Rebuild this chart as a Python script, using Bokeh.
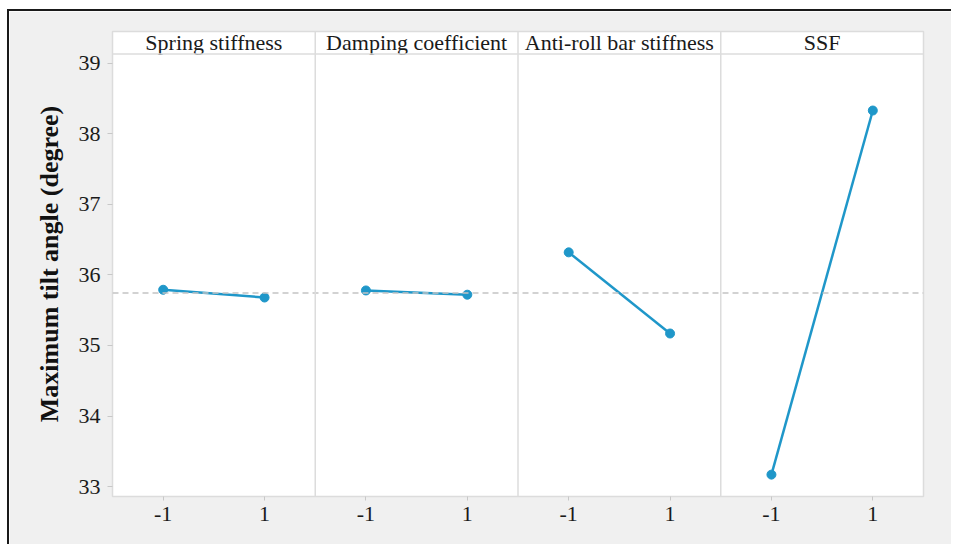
from bokeh.plotting import figure
from bokeh.models import FixedTicker, Span, ColumnDataSource, Range1d
from bokeh.core.properties import value
from bokeh.embed import file_html
from bokeh.resources import INLINE

# ---- data ----
factors = ["Spring stiffness", "Damping coefficient", "Anti-roll bar stiffness", "SSF"]
levels = [-1, 1]
level_labels = ["-1", "1"]
mean_low = [35.79, 35.78, 36.32, 33.17]
mean_high = [35.68, 35.72, 35.17, 38.33]
grand_mean = 35.745
y_ticks = [33, 34, 35, 36, 37, 38, 39]
y_label = "Maximum tilt angle (degree)"

# ---- layout of the panels ----
panel_w = 4.0           # each panel spans -2 .. 2 on the level scale
n = len(factors)
y_bottom, y_plot_top, y_strip_top = 32.86, 39.13, 39.45

BLUE = "#1f97c9"
GRID = "#dcdcdc"
FONT = "Liberation Serif"

p = figure(width=944, height=535, output_backend="svg", toolbar_location=None,
           x_range=Range1d(0, panel_w * n), y_range=Range1d(y_bottom, y_strip_top),
           min_border_left=103, min_border_right=30, min_border_top=20, min_border_bottom=50,
           styles={"border-top": "2px solid #1a1a1a", "border-left": "2px solid #1a1a1a",
                   "margin-top": "9px", "margin-left": "7px"})
p.background_fill_color = "white"
p.border_fill_color = "#f0f0f0"
p.outline_line_color = GRID
p.outline_line_width = 1.5
p.xgrid.visible = False
p.ygrid.visible = False

# grand-mean reference line
p.add_layout(Span(location=grand_mean, dimension="width", line_color="#c4c4c4",
                  line_dash="6 4", line_width=1.5))
# header strip separator
p.add_layout(Span(location=y_plot_top, dimension="width", line_color=GRID, line_width=1.5))
# panel separators
for i in range(1, n):
    p.add_layout(Span(location=i * panel_w, dimension="height", line_color=GRID, line_width=1.5))

tick_pos = []
tick_over = {}
for i, name in enumerate(factors):
    center = i * panel_w + panel_w / 2
    xs = [center + lv for lv in levels]
    ys = [mean_low[i], mean_high[i]]
    src = ColumnDataSource(dict(x=xs, y=ys))
    p.line("x", "y", source=src, line_color=BLUE, line_width=2.5)
    p.scatter("x", "y", source=src, size=9, fill_color=BLUE, line_color=BLUE)
    for x, lab in zip(xs, level_labels):
        tick_pos.append(x)
        tick_over[x] = lab
    p.text(x=[center], y=[(y_plot_top + y_strip_top) / 2], text=[name],
           text_font=value(FONT), text_font_size="22px", text_color="#1a1a1a",
           text_align="center", text_baseline="middle")

# x axis
xa = p.xaxis[0]
xa.ticker = FixedTicker(ticks=tick_pos)
xa.major_label_overrides = tick_over
xa.axis_line_color = None
xa.major_tick_line_color = "#c8c8c8"
xa.major_tick_out = 4
xa.major_tick_in = 0
xa.minor_tick_line_color = None
xa.major_label_text_font = FONT
xa.major_label_text_font_size = "22px"
xa.major_label_text_color = "#1a1a1a"
xa.major_label_standoff = 6

# y axis
ya = p.yaxis[0]
ya.ticker = FixedTicker(ticks=y_ticks)
ya.axis_line_color = None
ya.major_tick_line_color = "#c8c8c8"
ya.major_tick_out = 5
ya.major_tick_in = 0
ya.minor_tick_line_color = None
ya.major_label_text_font = FONT
ya.major_label_text_font_size = "22px"
ya.major_label_text_color = "#1a1a1a"
ya.major_label_standoff = 7
ya.axis_label = y_label
ya.axis_label_text_font = FONT
ya.axis_label_text_font_size = "26px"
ya.axis_label_text_font_style = "bold"
ya.axis_label_text_color = "#111111"
ya.axis_label_standoff = 12

open("out.html", "w").write(file_html(p, INLINE))
